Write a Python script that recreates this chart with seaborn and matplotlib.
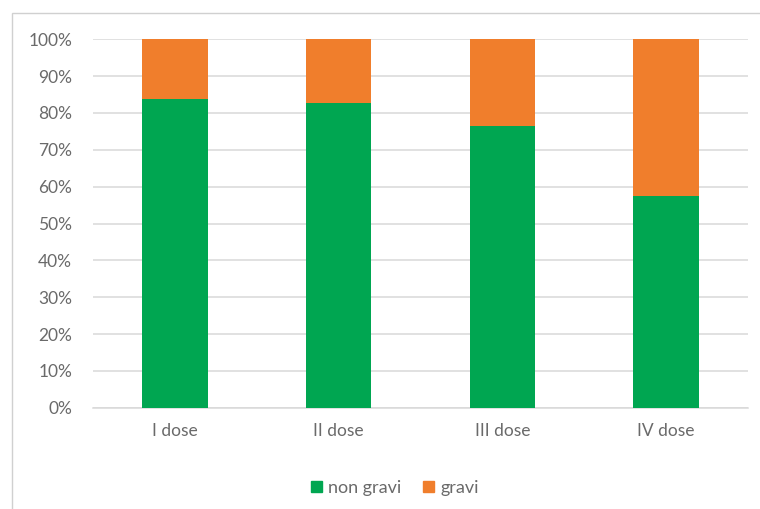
import matplotlib
matplotlib.use("Agg")
import matplotlib.pyplot as plt
import matplotlib.patches as mpatches
import numpy as np
import pandas as pd
import seaborn as sns

# Share of reactions by dose (percent)
doses = ["I dose", "II dose", "III dose", "IV dose"]
non_gravi = [83.8, 82.8, 76.5, 57.6]
gravi = [100 - v for v in non_gravi]
y_ticks = [0, 10, 20, 30, 40, 50, 60, 70, 80, 90, 100]

GREEN = "#00A651"
ORANGE = "#F07E2C"
TEXT = "#6A6A6A"
GRID = "#D9D9D9"

sns.set_theme(style="white")
plt.rcParams["font.family"] = ["Lato", "DejaVu Sans"]

df = pd.DataFrame({
    "dose": doses,
    "non gravi": non_gravi,
    "gravi": gravi,
})
df["total"] = df["non gravi"] + df["gravi"]

fig = plt.figure(figsize=(7.6, 5.09), dpi=100)
ax = fig.add_axes([0.1224, 0.199, 0.8616, 0.7238])

# Stacked bars: full height in orange, lower part in green
sns.barplot(data=df, x="dose", y="total", color=ORANGE, width=0.40,
            saturation=1, linewidth=0, ax=ax, zorder=3)
sns.barplot(data=df, x="dose", y="non gravi", color=GREEN, width=0.40,
            saturation=1, linewidth=0, ax=ax, zorder=3)

ax.set_ylim(0, 100)
ax.set_xlim(-0.5, len(doses) - 0.5)
ax.set_yticks(y_ticks)
ax.set_yticklabels([f"{t}%" for t in y_ticks])
ax.yaxis.grid(True, color=GRID, linewidth=1.1, zorder=0)
ax.set_axisbelow(True)
ax.set_xlabel("")
ax.set_ylabel("")
for side in ["top", "right", "left"]:
    ax.spines[side].set_visible(False)
ax.spines["bottom"].set_color(GRID)
ax.spines["bottom"].set_linewidth(1.1)
ax.tick_params(axis="y", length=0, pad=15, labelsize=12.5, labelcolor=TEXT)
ax.tick_params(axis="x", length=0, pad=11, labelsize=12.5, labelcolor=TEXT)

# Legend below the plot
handles = [mpatches.Patch(color=GREEN, label="non gravi"),
           mpatches.Patch(color=ORANGE, label="gravi")]
fig.legend(handles=handles, loc="center", bbox_to_anchor=(0.52, 0.041),
           ncol=2, frameon=False, fontsize=13, labelcolor=TEXT,
           handlelength=0.6, handleheight=0.6, handletextpad=0.35,
           columnspacing=1.2)

# Light chart-area border
fig.patches.append(mpatches.Rectangle((12 / 760, -0.05), 1.1, 1 - 13 / 509 + 0.05,
                                      transform=fig.transFigure, fill=False,
                                      edgecolor="#D0D0D0", linewidth=1.0))

fig.savefig("out.png", dpi=100, facecolor="white")
